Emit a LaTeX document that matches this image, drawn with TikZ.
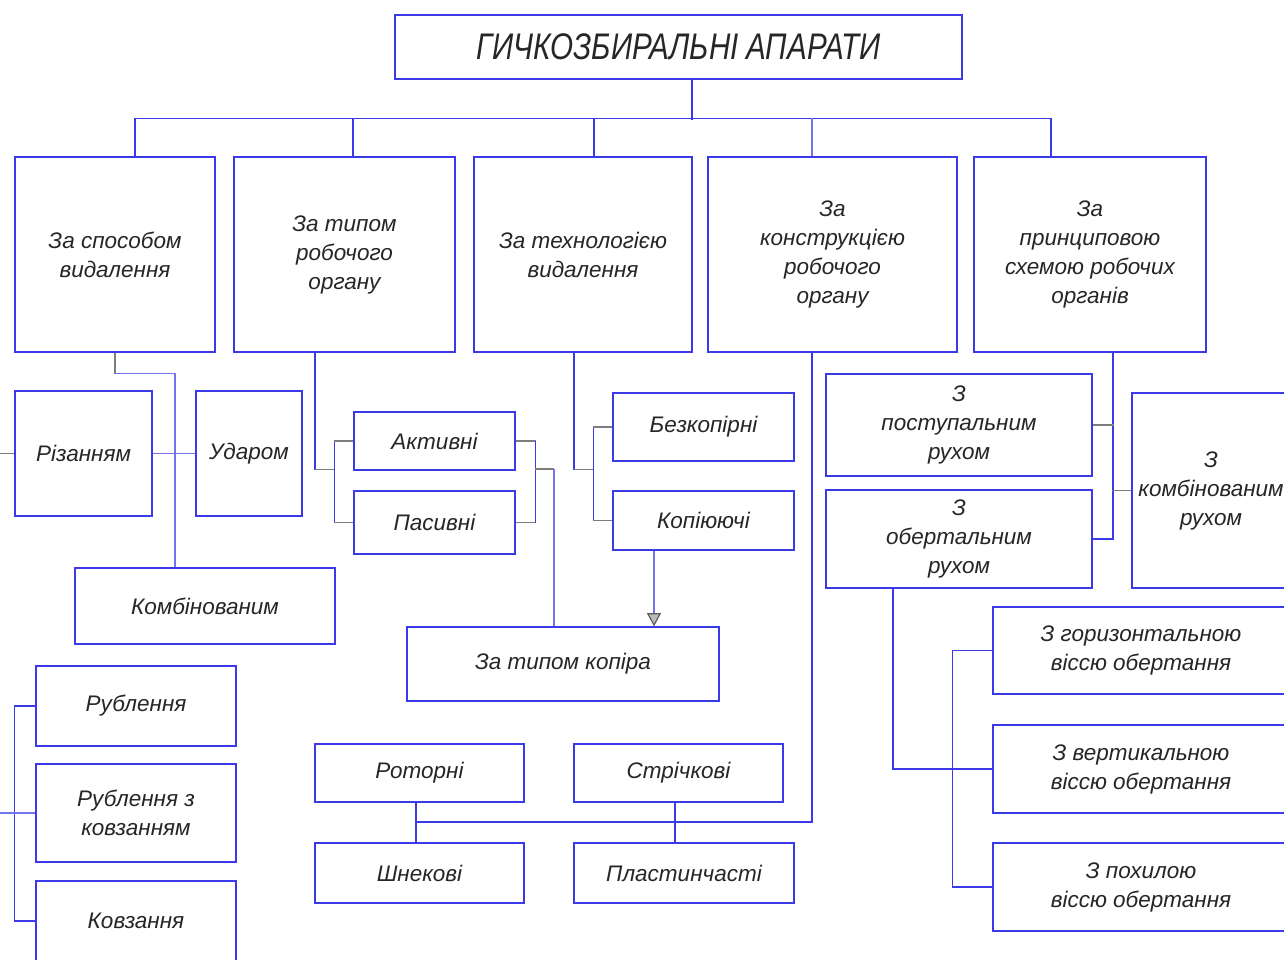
\documentclass[tikz,border=0pt]{standalone}
\usepackage{fontspec}
\setmainfont{Liberation Sans}
\newfontfamily\titlefont[FakeStretch=0.8]{Liberation Sans}
\usetikzlibrary{arrows.meta}
\definecolor{bl}{RGB}{58,58,232}
\definecolor{lbl}{RGB}{115,115,238}
\definecolor{grl}{RGB}{125,125,125}
\begin{document}
\begin{tikzpicture}[x=1pt,y=-1pt,
  box/.style={draw=bl,line width=1.6pt,inner sep=0pt,align=center,
    font=\fontsize{22.5}{29}\selectfont\itshape,text=black!85},
  ln/.style={draw=bl,line width=1.3pt},
  lb/.style={draw=lbl,line width=1.1pt},
  gl/.style={draw=grl,line width=1.1pt}]
\fill[white] (0,0) rectangle (1284,959);
\useasboundingbox (0,0) rectangle (1284,959);

% title
\node[box,minimum width=567pt,minimum height=64pt,font=\fontsize{37}{40}\selectfont\titlefont\itshape] (title) at (678.5,47) {ГИЧКОЗБИРАЛЬНІ АПАРАТИ};

% level 1
\node[box,minimum width=200pt,minimum height=195pt] (b1) at (115,254.5) {За способом\\видалення};
\node[box,minimum width=221pt,minimum height=195pt] (b2) at (344.5,254.5) {За типом\\робочого\\органу};
\node[box,minimum width=218pt,minimum height=195pt] (b3) at (583,254.5) {За технологією\\видалення};
\node[box,minimum width=249pt,minimum height=195pt] (b4) at (832.5,254.5) {За\\конструкцією\\робочого\\органу};
\node[box,minimum width=232pt,minimum height=195pt] (b5) at (1090,254.5) {За\\принциповою\\схемою робочих\\органів};

% under b1
\node[box,minimum width=137pt,minimum height=125pt] (riz) at (83.5,453.5) {Різанням};
\node[box,minimum width=106pt,minimum height=125pt] (udar) at (249,453.5) {Ударом};
\node[box,minimum width=260pt,minimum height=76pt] (komb) at (205,606) {Комбінованим};

% under b2
\node[box,minimum width=161pt,minimum height=58pt] (akt) at (434.5,441) {Активні};
\node[box,minimum width=161pt,minimum height=63pt] (pas) at (434.5,522.5) {Пасивні};
\node[box,minimum width=312pt,minimum height=74pt] (kopir) at (563,664) {За типом копіра};

% under b3
\node[box,minimum width=181pt,minimum height=68pt] (bez) at (703.5,427) {Безкопірні};
\node[box,minimum width=181pt,minimum height=59pt] (kop) at (703.5,520.5) {Копіюючі};

% under b4
\node[box,minimum width=209pt,minimum height=58pt] (rot) at (419.5,773) {Роторні};
\node[box,minimum width=209pt,minimum height=58pt] (str) at (678.5,773) {Стрічкові};
\node[box,minimum width=209pt,minimum height=60pt] (shn) at (419.5,873) {Шнекові};
\node[box,minimum width=220pt,minimum height=60pt] (pla) at (684,873) {Пластинчасті};

% under b5
\node[box,minimum width=266pt,minimum height=102pt] (post) at (959,425) {З\\поступальним\\рухом};
\node[box,minimum width=266pt,minimum height=98pt] (obert) at (959,539) {З\\обертальним\\рухом};
\node[box,minimum width=158pt,minimum height=195pt] (kombr) at (1211,490.5) {З\\комбінованим\\рухом};

% axes
\node[box,minimum width=296pt,minimum height=87pt] (hor) at (1141,650.5) {З горизонтальною\\віссю обертання};
\node[box,minimum width=296pt,minimum height=88pt] (ver) at (1141,769) {З вертикальною\\віссю обертання};
\node[box,minimum width=296pt,minimum height=88pt] (poh) at (1141,887) {З похилою\\віссю обертання};

% bottom left
\node[box,minimum width=200pt,minimum height=80pt] (rub) at (136,706) {Рублення};
\node[box,minimum width=200pt,minimum height=98pt] (rubk) at (136,813) {Рублення з\\ковзанням};
\node[box,minimum width=200pt,minimum height=80pt] (kovz) at (136,921) {Ковзання};

% top connectors
\draw[ln] ([xshift=13.5pt]title.south) -- ++(0,40);
\draw[ln] ([xshift=20pt]b1.north) -- ++(0,-38) -| ([xshift=-39pt]b5.north);
\draw[ln] ([xshift=8.5pt]b2.north) -- ++(0,-38);
\draw[ln] ([xshift=11pt]b3.north) -- ++(0,-38);
\draw[lb] ([xshift=-20.5pt]b4.north) -- ++(0,-38);

% b1 children
\draw[gl] (b1.south) -- ++(0,21) coordinate (k1);
\draw[lb] (k1) -| ([xshift=-30pt]komb.north);
\draw[lb] (riz.east) -- (udar.west);
\draw[gl] (riz.west) -- ++(-15,0);

% b2 children
\draw[ln] ([xshift=-29.5pt]b2.south) -- ++(0,117) coordinate (k2);
\draw[gl] (k2) -- ++(20,0);
\draw[ln] ([xshift=-19pt]akt.west) -- ([xshift=-19pt]pas.west);
\draw[gl] ([xshift=-19pt]akt.west) -- (akt.west);
\draw[gl] ([xshift=-19pt]pas.west) -- (pas.west);
\draw[gl] (akt.east) -- ++(20,0);
\draw[gl] (pas.east) -- ++(20,0);
\draw[ln] ([xshift=20pt]akt.east) -- ([xshift=20pt]pas.east);
\coordinate (k3) at (535,469);
\draw[gl] (k3) -- ++(19,0) coordinate (k3b);
\draw[lb] (k3b) -- (k3b |- kopir.north);

% b3 children
\draw[ln] ([xshift=-9pt]b3.south) -- ++(0,117) coordinate (k4);
\draw[gl] (k4) -- ++(20,0);
\draw[ln] ([xshift=-19pt]bez.west) -- ([xshift=-19pt]kop.west);
\draw[gl] ([xshift=-19pt]bez.west) -- (bez.west);
\draw[gl] ([xshift=-19pt]kop.west) -- (kop.west);
\draw[lb,-{Triangle[length=13pt,width=14pt,fill=gray!55,color=gray!70!black]}] ([xshift=-49.5pt]kop.south) -- ([xshift=91pt]kopir.north);

% b4 children
\coordinate (k5) at (416,822);
\draw[ln] ([xshift=-20.5pt]b4.south) |- (k5);
\draw[ln] ([xshift=-3.5pt]rot.south) -- ([xshift=-3.5pt]shn.north);
\draw[ln] ([xshift=-3.5pt]str.south) -- ([xshift=-9pt]pla.north);

% b5 children
\draw[ln] ([xshift=23pt]b5.south) |- (obert.east);
\draw[gl] (post.east) -- ++(21,0);
\draw[gl] (kombr.west) -- ++(-19,0);

% obert children
\draw[ln] ([xshift=-66pt]obert.south) |- (ver.west);
\draw[ln] (hor.west) -- ++(-40,0) |- (poh.west);

% bottom left
\draw[ln] (rub.west) -- ++(-21,0) |- (kovz.west);
\draw[lb] (rubk.west) -- ++(-36,0);
\end{tikzpicture}
\end{document}
